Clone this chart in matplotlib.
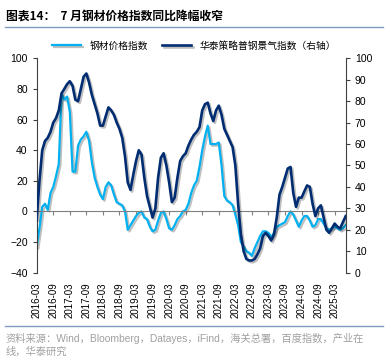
import matplotlib
matplotlib.use("Agg")
import matplotlib.pyplot as plt
import matplotlib.patheffects as pe
import pandas as pd

plt.rcParams['font.family'] = ['Liberation Sans', 'Noto Sans CJK SC', 'DejaVu Sans']

# monthly, 2016-03 .. 2025-07
steel_price = [
    -23, -11, 3, 5, 1, 12, 16, 23, 31, 77,
    73, 75, 65, 26, 26, 43, 47, 49, 52, 46,
    32, 22, 16, 11, 8, 16, 19, 17, 11, 6,
    5, 4, 0, -12, -9, -6, -3, -1, 0, -4,
    -5, -10, -13, -12, -6, -1, 0, -5, -11, -12,
    -9, -5, -3, 0, 1, 5, 12, 17, 20, 29,
    40, 49, 56, 44, 44, 44, 45, 30, 10, 7,
    6, 4, -2, -9, -20, -23, -26, -27, -29, -24,
    -20, -16, -13, -13, -14, -17, -14, -10, -9, -8,
    -7, -3, 0, -2, -6, -10, -6, -3, -3, -6,
    -10, -9, -5, -5, -8, -11, -12, -11, -10, -11,
    -12, -11, -9,
]
steel_boom = [
    25.0, 42.9, 57.1, 61.4, 62.9, 65.7, 70.0, 72.1, 75.7, 83.6,
    85.7, 87.9, 89.3, 87.1, 80.7, 80.0, 85.7, 91.4, 92.9, 88.6,
    82.9, 78.6, 74.3, 68.6, 68.6, 72.9, 77.1, 75.7, 73.6, 70.0,
    67.1, 62.9, 54.3, 42.1, 38.6, 45.7, 52.1, 57.1, 55.0, 44.3,
    35.7, 30.7, 25.7, 30.0, 44.3, 53.6, 55.7, 50.0, 42.1, 32.9,
    35.0, 44.3, 52.1, 54.3, 55.7, 59.3, 62.1, 64.3, 65.7, 67.9,
    75.7, 78.6, 79.3, 74.3, 70.7, 75.7, 77.9, 73.6, 67.1, 64.3,
    61.4, 58.6, 50.0, 32.1, 17.9, 10.0, 6.4, 5.7, 5.7, 6.4,
    8.6, 11.4, 17.1, 18.6, 17.1, 15.0, 17.9, 25.7, 36.4, 40.0,
    44.3, 48.6, 49.3, 37.1, 30.7, 35.0, 35.0, 37.9, 40.7, 40.0,
    32.1, 26.4, 30.0, 31.4, 25.7, 20.0, 18.6, 20.7, 22.9, 21.4,
    20.7, 23.6, 26.4,
]
months = pd.date_range("2016-03", periods=len(steel_price), freq="MS")
tick_labels = [d.strftime("%Y-%m") for d in months[::6]]
x = list(range(len(months)))

light = "#00B0F0"
dark = "#002D72"
cjk = ['Noto Sans CJK SC', 'DejaVu Sans']

fig = plt.figure(figsize=(3.88, 3.58), dpi=100)
ax = fig.add_axes([0.0946, 0.2383, 0.7964, 0.5989])
ax2 = ax.twinx()

shadow = [pe.SimpleLineShadow(offset=(1.2, -1.2), alpha=0.25), pe.Normal()]
l1, = ax.plot(x, steel_price, color=light, lw=1.6, path_effects=shadow)
l2, = ax2.plot(x, steel_boom, color=dark, lw=1.9, path_effects=shadow)

ax.set_xlim(0, len(x) - 1)
ax.set_ylim(-40, 100)
ax.set_yticks(range(-40, 101, 20))
ax2.set_ylim(0, 100)
ax2.set_yticks(range(0, 101, 10))

ax.spines['bottom'].set_position(('data', 0))
ax.spines['top'].set_visible(False)
ax2.spines['top'].set_visible(False)
ax2.spines['bottom'].set_visible(False)
ax.spines['right'].set_visible(False)
ax2.spines['left'].set_visible(False)
ax.spines['bottom'].set_color("#808080")
ax.spines['left'].set_color("#404040")
ax2.spines['right'].set_color("#404040")

ax.set_xticks(x[::6])
ax.set_xticklabels(tick_labels, rotation=90)
ax.tick_params(axis='x', length=3, color="#808080", pad=48, labelsize=7)
ax.tick_params(axis='y', length=3, labelsize=7.5, color="#404040")
ax2.tick_params(axis='y', length=3, labelsize=7.5, color="#404040")

fig.text(0.015, 0.955, "图表14：  7 月钢材价格指数同比降幅收窄", fontsize=8.5,
         fontweight='bold', family=cjk, va='center')
fig.add_artist(plt.Line2D([0.013, 0.987], [0.925, 0.925], color="#7F9BBF", lw=1))
fig.add_artist(plt.Line2D([0.013, 0.987], [0.09, 0.09], color="#7F9BBF", lw=1))
fig.text(0.015, 0.055, "资料来源：Wind，Bloomberg，Datayes，iFind，海关总署，百度指数，产业在",
         fontsize=7.4, color="#A0A0A0", va='center')
fig.text(0.015, 0.018, "线，华泰研究", fontsize=7.4, color="#A0A0A0", va='center')

fig.legend([l1, l2], ["钢材价格指数", "华泰策略普钢景气指数（右轴）"], loc='center',
           bbox_to_anchor=(0.5, 0.872), ncol=2, frameon=False,
           handlelength=3.0, columnspacing=1.5, prop={'family': cjk, 'size': 7})

fig.savefig("out.png", dpi=100)
